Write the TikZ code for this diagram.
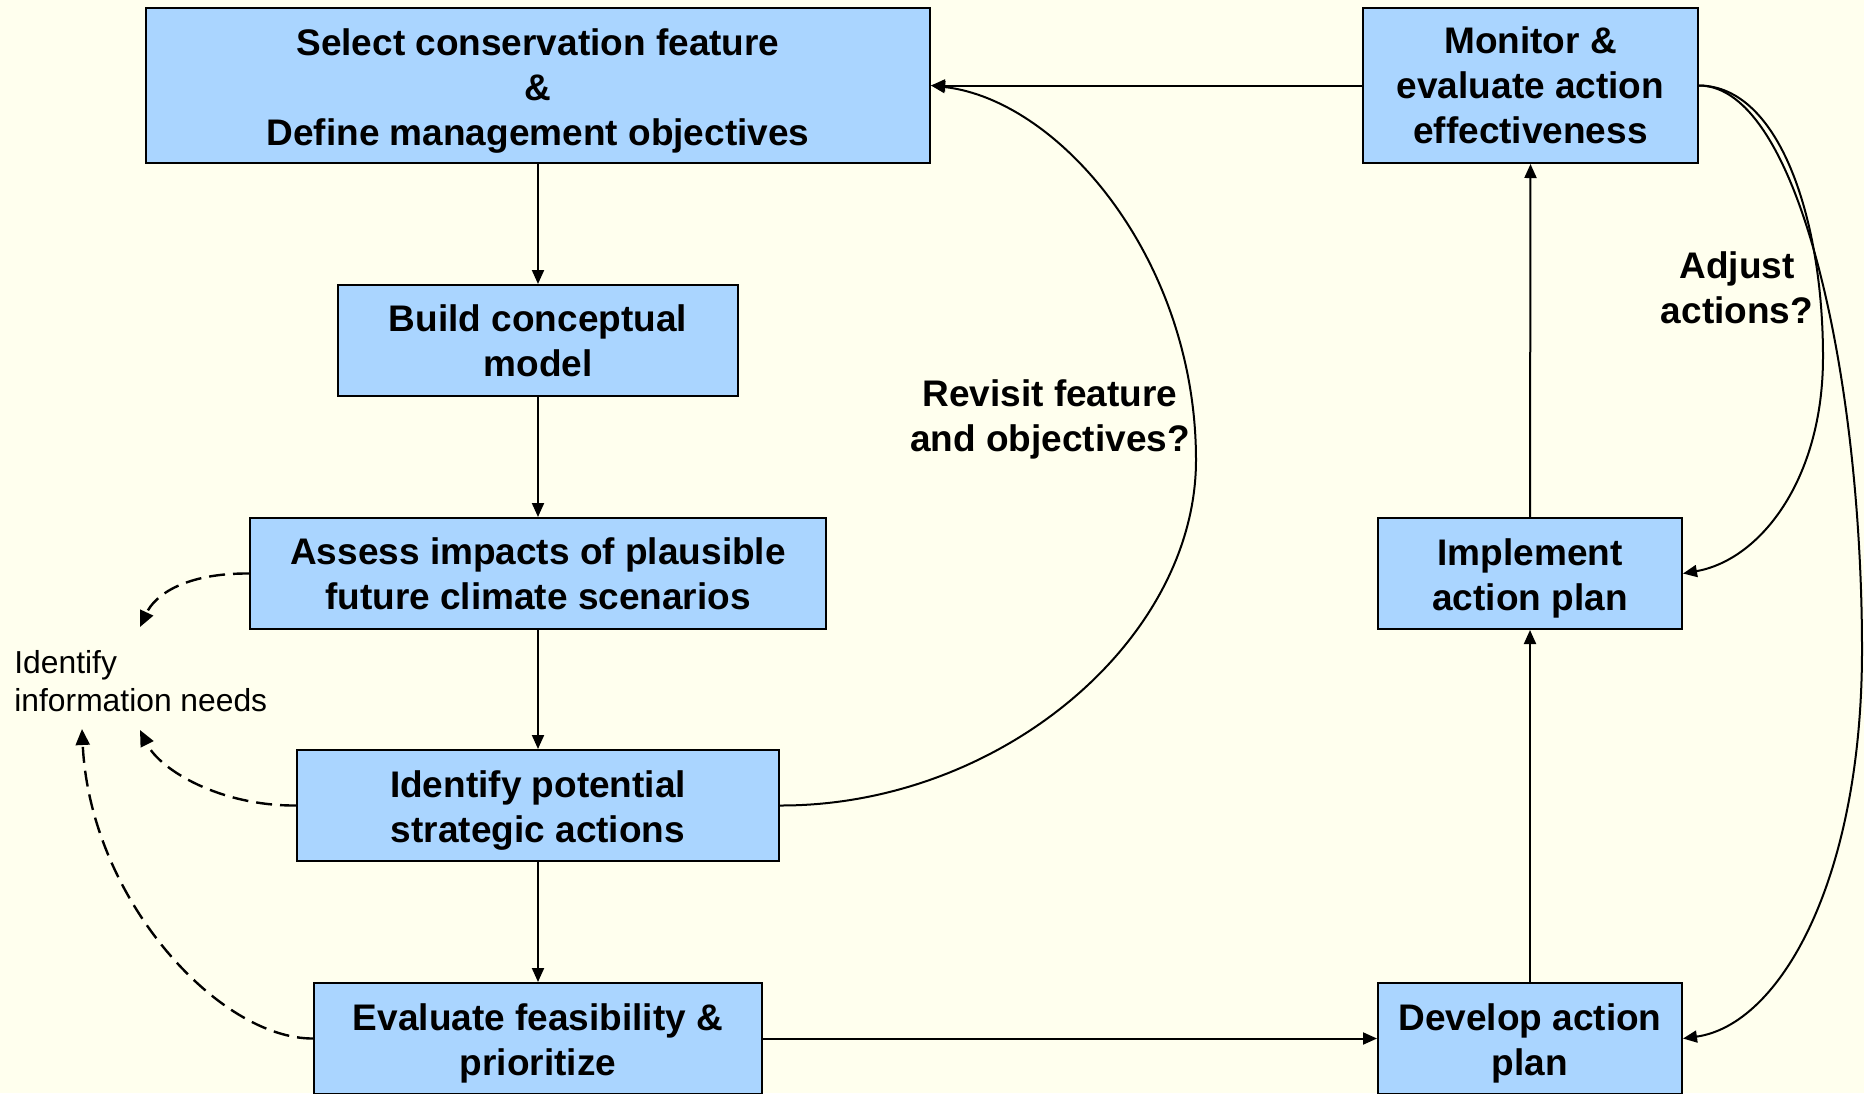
\documentclass[tikz,border=0pt]{standalone}
\usepackage{fontspec}
\setmainfont{Liberation Sans}
\usetikzlibrary{arrows.meta}
\definecolor{bgcol}{RGB}{255,255,238}
\definecolor{boxcol}{RGB}{170,213,255}
\newcommand{\toppad}{\rule{0pt}{18.5pt}}
\begin{document}
\begin{tikzpicture}[x=0.5pt,y=-0.5pt,
  box/.style={draw=black,fill=boxcol,line width=1pt,rectangle,inner sep=0pt,align=center,
    font=\fontsize{18.5}{22.5}\selectfont\bfseries},
  lbl/.style={inner sep=0pt,align=center,font=\fontsize{18.5}{22.5}\selectfont\bfseries},
  arr/.style={line width=1pt,-{Triangle[length=7pt,width=6pt]}},
  dasharr/.style={line width=1.2pt,dash pattern=on 8pt off 4pt,-{Triangle[length=8pt,width=7pt]}}]
\clip (0,0) rectangle (1864,1093);
\fill[bgcol] (0,0) rectangle (1864,1093);

% left column
\node[box,minimum width=392pt,minimum height=77.5pt] (b1) at (538,85.5)
  {\toppad Select conservation feature\\\&\\Define management objectives};
\node[box,minimum width=200pt,minimum height=55.5pt] (b2) at (538,340.5)
  {Build conceptual\\model};
\node[box,minimum width=288pt,minimum height=55.5pt] (b3) at (538,573.5)
  {Assess impacts of plausible\\future climate scenarios};
\node[box,minimum width=241pt,minimum height=55.5pt] (b4) at (538,805.5)
  {\toppad Identify potential\\strategic actions};
\node[box,minimum width=224pt,minimum height=55.5pt] (b5) at (538,1038.5)
  {\toppad Evaluate feasibility \&\\prioritize};

% right column
\node[box,minimum width=167.5pt,minimum height=77.5pt] (b6) at (1530.5,85.5)
  {Monitor \&\\evaluate action\\effectiveness};
\node[box,minimum width=152pt,minimum height=55.5pt] (b7) at (1530,573.5)
  {\toppad Implement\\action plan};
\node[box,minimum width=152pt,minimum height=55.5pt] (b8) at (1530,1038.5)
  {\toppad Develop action\\plan};

% labels
\node[lbl] (lrev) at (1050,419.5) {Revisit feature\\and objectives?};
\node[lbl] (ladj) at (1737,288) {Adjust\\actions?};
\node[inner sep=0pt,align=left,anchor=west,font=\fontsize{15.9}{19}\selectfont] (info) at (14,681)
  {Identify\\information needs};

% straight arrows
\draw[arr] (b1.south) -- (b2.north);
\draw[arr] (b2.south) -- (b3.north);
\draw[arr] (b3.south) -- (b4.north);
\draw[arr] (b4.south) -- (b5.north);
\draw[arr] (b5.east) -- (b8.west);
\draw[arr] (b8.north) -- (b7.south);
\draw[arr] (b7.north) -- (b6.south);
\draw[arr] (b6.west) -- (b1.east);

% revisit curve
\coordinate (crev) at (1196,460);
\draw[arr] (b4.east) .. controls (1000,806) and (1196,640) .. (crev)
  .. controls (1196,260) and (1060,100) .. (b1.east);

% adjust curve
\coordinate (cadj) at (1823,357);
\draw[arr] (b6.east) .. controls (1780,86) and (1823,220) .. (cadj)
  .. controls (1823,480) and (1760,560) .. (b7.east);

% outer curve
\coordinate (cout) at (1862,650);
\draw[arr] (b6.east) .. controls (1800,86) and (1862,380) .. (cout)
  .. controls (1862,880) and (1780,1025) .. (b8.east);

% dashed arrows
\coordinate (t1) at (140,627);
\coordinate (t2) at (140,730);
\coordinate (t3) at (82,729);
\draw[dasharr] (b3.west) .. controls (185,573) and (155,595) .. (t1);
\draw[dasharr] (b4.west) .. controls (220,806) and (160,770) .. (t2);
\draw[dasharr] (b5.west) .. controls (220,1039) and (90,900) .. (t3);
\end{tikzpicture}
\end{document}
